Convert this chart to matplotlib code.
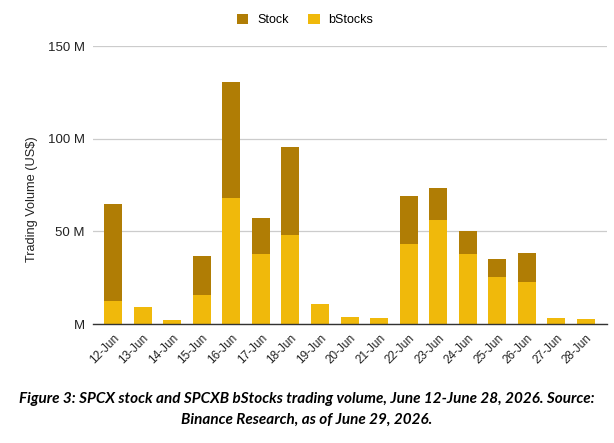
import numpy as np
from matplotlib import pyplot as plt

plt.rcParams['font.family'] = ['Liberation Sans', 'DejaVu Sans']

days = ['12-Jun', '13-Jun', '14-Jun', '15-Jun', '16-Jun', '17-Jun', '18-Jun',
        '19-Jun', '20-Jun', '21-Jun', '22-Jun', '23-Jun', '24-Jun', '25-Jun',
        '26-Jun', '27-Jun', '28-Jun']
# volumes in millions of US$
bstocks = np.array([12.4, 9.0, 2.2, 15.7, 67.9, 37.7, 48.1, 10.8, 3.8, 3.2,
                    43.2, 56.2, 37.7, 25.4, 22.5, 3.2, 2.7])
total = np.array([64.9, 9.0, 2.2, 36.9, 130.8, 57.1, 95.8, 10.8, 3.8, 3.2,
                  69.0, 73.3, 50.4, 35.3, 38.2, 3.2, 2.7])
stock = total - bstocks

yticks = [0, 50, 100, 150]
ytick_labels = ['M', '50 M', '100 M', '150 M']

fig = plt.figure(figsize=(6.14, 4.43), dpi=100)
ax = fig.add_axes([0.1515, 0.2686, 0.8371, 0.6274])

x = np.arange(len(days))
ax.bar(x, bstocks, width=0.61, color='#F0B90B', label='bStocks', zorder=3)
ax.bar(x, stock, bottom=bstocks, width=0.61, color='#B07D05',
       label='Stock', zorder=3)

ax.set_xlim(-0.68, len(days) - 0.29)
ax.set_ylim(0, 150)
ax.set_yticks(yticks)
ax.set_yticklabels(ytick_labels, fontsize=9.5, color='#222222')
ax.set_xticks(x)
ax.set_xticklabels(days, rotation=45, ha='right', rotation_mode='anchor',
                   fontsize=8.5, color='#222222')
ax.tick_params(length=0, pad=6)
ax.grid(axis='y', color='#cccccc', linewidth=0.9, zorder=0)
for s in ['top', 'right', 'left']:
    ax.spines[s].set_visible(False)
ax.spines['bottom'].set_color('#333333')
ax.spines['bottom'].set_linewidth(1.0)
ax.spines['bottom'].set_zorder(4)

ax.set_ylabel('Trading Volume (US$)', fontsize=9.2, color='#222222')
ax.yaxis.set_label_coords(-0.107, 0.448)

handles, labels = ax.get_legend_handles_labels()
fig.legend(handles[::-1], labels[::-1], loc='center', bbox_to_anchor=(0.497, 0.955),
           ncol=2, frameon=False, fontsize=9, handlelength=0.9, handleheight=0.9,
           columnspacing=1.6, handletextpad=0.7)

fig.text(0.5, 0.0756, 'Figure 3: SPCX stock and SPCXB bStocks trading volume, June 12-June 28, 2026. Source:\n'
         'Binance Research, as of June 29, 2026.',
         ha='center', va='center', fontsize=11, fontweight='bold', fontstyle='italic',
         family='Lato', linespacing=1.55)

plt.savefig('out.png', dpi=100)
